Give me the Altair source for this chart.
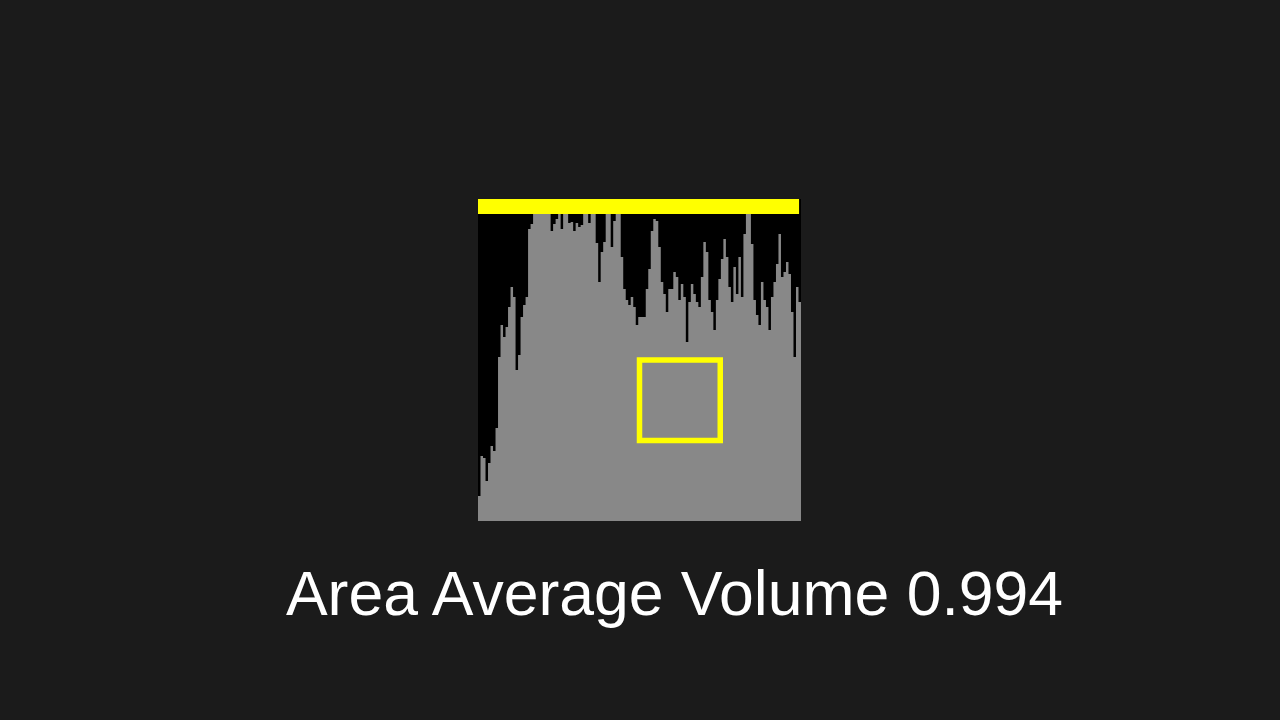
import altair as alt
import pandas as pd

# Spectrum bin levels (plot units: 0 = bottom, 322 = top of plot)
levels = [
    25, 65, 63, 40, 58, 75, 70, 93, 164, 196,
    184, 194, 214, 234, 224, 151, 166, 204, 216, 224,
    292, 297, 307, 307, 307, 307, 307, 307, 307, 290,
    297, 302, 307, 292, 307, 307, 298, 299, 290, 298,
    294, 296, 307, 307, 298, 307, 307, 278, 239, 269,
    279, 307, 307, 274, 300, 307, 307, 264, 232, 221,
    216, 224, 214, 196, 204, 204, 204, 232, 252, 290,
    302, 300, 274, 239, 227, 209, 232, 232, 249, 244,
    221, 237, 224, 179, 219, 237, 227, 219, 214, 244,
    279, 269, 221, 209, 191, 221, 242, 262, 282, 264,
    234, 219, 254, 227, 264, 224, 287, 307, 307, 277,
    221, 206, 196, 239, 221, 214, 191, 224, 239, 257,
    287, 244, 249, 259, 247, 209, 164, 234, 219,
]
level_max = 322

volume = 0.994
area_x = [0.5, 0.75]
area_y = [0.25, 0.5]
title_text = f"Area Average Volume {volume}"

# step outline: each bin starts at its index; closing point at the last edge
bins = list(range(len(levels))) + [len(levels)]
step_levels = levels + [levels[-1]]
bars_df = pd.DataFrame({"bin": bins, "level": step_levels})

bars = alt.Chart(bars_df).mark_area(
    color="#888888", interpolate="step-after", opacity=1
).encode(
    x=alt.X("bin:Q", scale=alt.Scale(domain=[0, len(levels)], nice=False, zero=False), axis=None),
    y=alt.Y("level:Q", scale=alt.Scale(domain=[0, level_max], nice=False), axis=None),
)

meter_df = pd.DataFrame({"start": [0.0], "volume": [volume]})
meter = alt.Chart(meter_df).mark_rect(color="#ffff00").encode(
    x=alt.X("start:Q", scale=alt.Scale(domain=[0, 1], nice=False), axis=None),
    x2="volume:Q",
    y=alt.value(0),
    y2=alt.value(15),
)

box_df = pd.DataFrame({"x0": [area_x[0]], "x1": [area_x[1]], "y0": [area_y[0]], "y1": [area_y[1]]})
box = alt.Chart(box_df).mark_rect(
    fillOpacity=0, stroke="#ffff00", strokeWidth=5.5
).encode(
    x=alt.X("x0:Q", scale=alt.Scale(domain=[0, 1], nice=False), axis=None),
    x2="x1:Q",
    y=alt.Y("y0:Q", scale=alt.Scale(domain=[0, 1], nice=False), axis=None),
    y2="y1:Q",
)

chart = alt.layer(bars, meter, box).resolve_scale(
    x="independent", y="independent"
).properties(
    width=323,
    height=322,
    title=alt.TitleParams(
        text=title_text,
        orient="bottom",
        anchor="middle",
        dx=35,
        offset=94,
        baseline="alphabetic",
        fontSize=62.5,
        font="Liberation Sans",
        fontWeight="normal",
        color="#ffffff",
    ),
    padding={"left": 478, "top": 199, "right": 479, "bottom": 199},
    autosize=alt.AutoSizeParams(type="none"),
    background="#1b1b1b",
).configure_view(fill="#000000", strokeWidth=0)

chart.save("out.html", embed_options={"renderer": "svg", "actions": False})
